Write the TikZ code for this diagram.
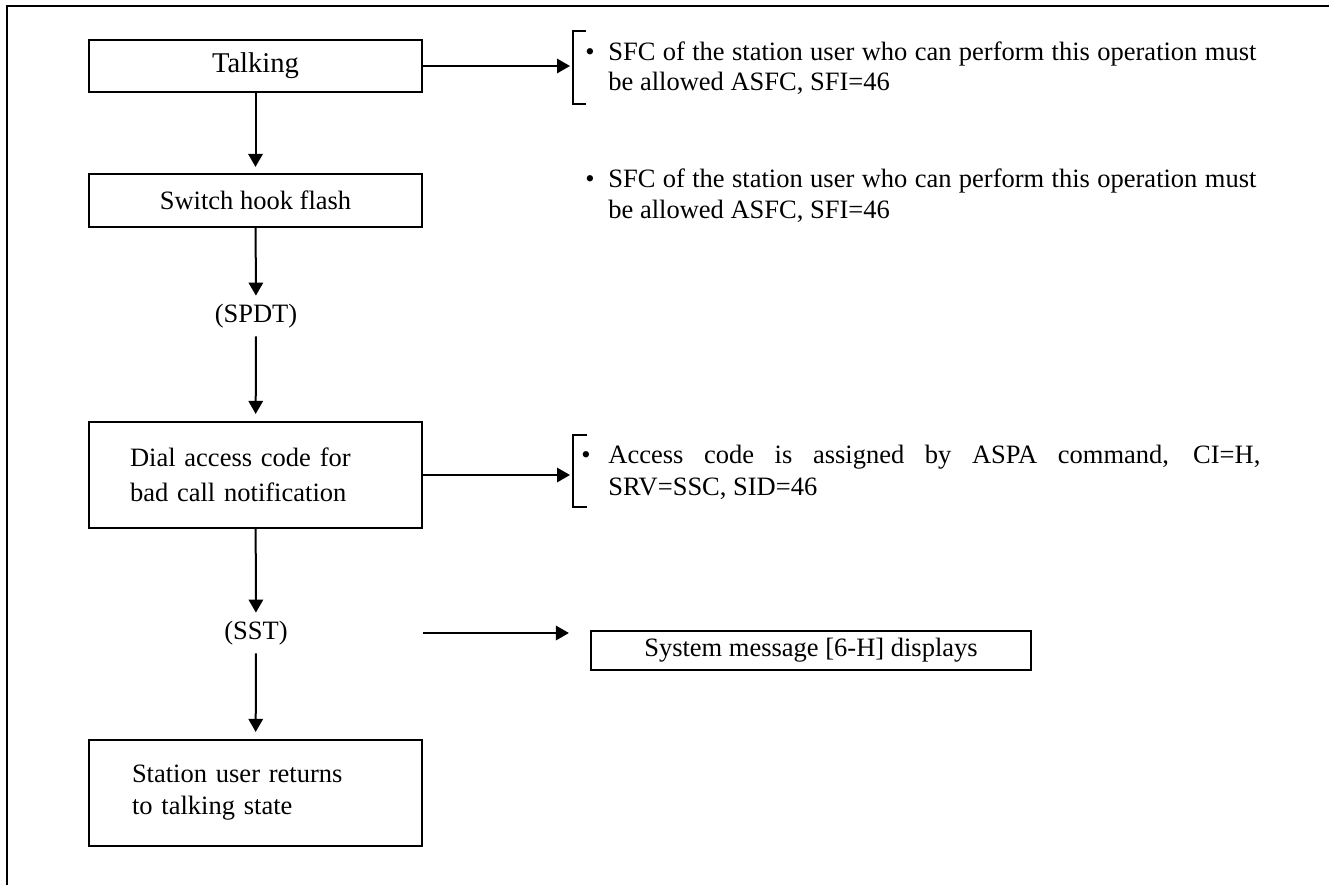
\documentclass[tikz,border=0pt]{standalone}
\usepackage{fontspec}
\setmainfont{Liberation Serif}
\usetikzlibrary{arrows.meta}
\tikzset{
  base font/.style={font=\fontsize{13.25}{16}\selectfont},
  box/.style={draw, line width=1.1pt, rectangle, minimum width=166.5pt, inner sep=0pt, base font},
  lbl/.style={inner xsep=2pt, inner ysep=4pt, base font},
  txt/.style={inner sep=0pt, anchor=base west, base font},
  bul/.style={inner sep=0pt, anchor=base, base font},
  arr/.style={line width=1pt, -{Triangle[length=6.5pt,width=7.2pt]}},
  brk/.style={line width=1.1pt},
}
\begin{document}
\begin{tikzpicture}[x=0.5pt, y=-0.5pt]
\useasboundingbox (0,0) rectangle (1329,885);
% frame
\draw[line width=1.1pt] (1329,6) -- (7,6) -- (7,885);

% main column
\node[box, minimum height=26pt, font=\fontsize{14.3}{17}\selectfont] (talk) at (255.5,66) {Talking};
\node[box, minimum height=26.5pt] (flash) at (255.5,200.5) {Switch hook flash};
\node[lbl] (spdt) at (256,316) {(SPDT)};
\node[box, minimum height=53pt, text width=125.5pt, inner xsep=20.5pt, align=left,
      font=\fontsize{13.25}{17.5}\selectfont] (dial) at (255.5,475) {Dial access code for\\bad call notification};
\node[lbl] (sst) at (256,633) {(SST)};
\node[box, minimum height=53pt, text width=123.5pt, inner xsep=21.5pt, align=left] (station) at (255.5,793) {Station user returns\\to talking state};
\node[box, minimum width=220pt, minimum height=19.5pt] (sysmsg) at (811,650.5) {System message [6-H] displays};

% vertical connectors
\draw[arr, shorten >=3pt] (talk) -- (flash);
\draw[arr] (flash) -- (spdt);
\draw[arr, shorten >=3.5pt] (spdt) -- (dial);
\draw[arr] (dial) -- (sst);
\draw[arr, shorten >=3.5pt] (sst) -- (station);

% brackets
\coordinate (br1) at (573,67.5);
\draw[brk] (586,31) -- (573,31) -- (573,104) -- (586,104);
\coordinate (br3) at (573,473);
\draw[brk] (587,435) -- (573,435) -- (573,507) -- (587,507);

% horizontal connectors
\draw[arr, shorten >=1.5pt] (talk.east) -- (talk.east -| br1);
\draw[arr, shorten >=1.5pt] (dial.east) -- (dial.east -| br3);
\coordinate (sstR) at (sst.center -| dial.east);
\coordinate (sysL) at (sst.center -| sysmsg.west);
\draw[arr, shorten >=10.5pt] (sstR) -- (sysL);

% notes
\node[bul] (d1) at (590,60) {\textbullet};
\node[txt] (n1a) at (608,60) {\makebox[324pt][s]{SFC of the station user who can perform this operation must}};
\node[txt] (n1b) at (608,90) {be allowed ASFC, SFI=46};

\node[bul] (d2) at (590,187) {\textbullet};
\node[txt] (n2a) at (608,187) {\makebox[324pt][s]{SFC of the station user who can perform this operation must}};
\node[txt] (n2b) at (608,218) {be allowed ASFC, SFI=46};

\node[bul] (d3) at (586,463) {\textbullet};
\node[txt] (n3a) at (608,463) {\makebox[326pt][s]{Access code is assigned by ASPA command, CI=H,}};
\node[txt] (n3b) at (608,495) {SRV=SSC, SID=46};
\end{tikzpicture}
\end{document}
